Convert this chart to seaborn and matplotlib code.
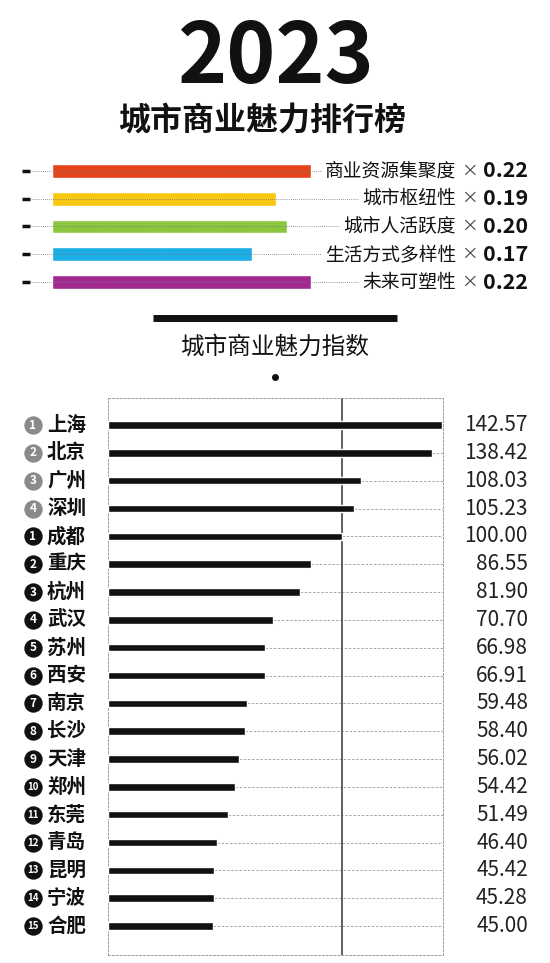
import numpy as np
import pandas as pd
import matplotlib
matplotlib.use("Agg")
import matplotlib.pyplot as plt
import matplotlib.transforms as mtransforms
import seaborn as sns

# data
factors = ["商业资源集聚度", "城市枢纽性", "城市人活跃度", "生活方式多样性", "未来可塑性"]
weights = [0.22, 0.19, 0.20, 0.17, 0.22]
factor_colors = ["#E2451B", "#F8C811", "#8CC63E", "#1DAEE5", "#A1288E"]

cities = ["上海", "北京", "广州", "深圳", "成都", "重庆", "杭州", "武汉", "苏州", "西安",
          "南京", "长沙", "天津", "郑州", "东莞", "青岛", "昆明", "宁波", "合肥"]
scores = [142.57, 138.42, 108.03, 105.23, 100.00, 86.55, 81.90, 70.70, 66.98, 66.91,
          59.48, 58.40, 56.02, 54.42, 51.49, 46.40, 45.42, 45.28, 45.00]
ranks = ["1", "2", "3", "4", "1", "2", "3", "4", "5", "6", "7", "8", "9", "10",
         "11", "12", "13", "14", "15"]
rank_colors = ["#8a8a8a"] * 4 + ["#111111"] * 15

sns.set_style("white")
plt.rcParams["font.family"] = ["Noto Sans CJK SC", "DejaVu Sans"]

W, H = 550, 963
fig = plt.figure(figsize=(W / 100, H / 100), dpi=100)
fig.patch.set_facecolor("white")

def fx(px):
    return px / W

def fy(py):
    return 1 - py / H

# header
fig.text(fx(275), fy(58), "2023", ha="center", va="center", fontsize=60,
         fontweight="heavy", color="#111111")
fig.text(fx(262), fy(122), "城市商业魅力排行榜", ha="center", va="center",
         fontsize=23, fontweight="heavy", color="#111111")

# weights
ax_w = fig.add_axes([fx(52), fy(296), fx(527) - fx(52), (296 - 157) / H])
df_w = pd.DataFrame({"factor": factors, "weight": weights})
sns.barplot(data=df_w, x="weight", y="factor", hue="factor", palette=factor_colors,
            legend=False, width=0.5, saturation=1, ax=ax_w, zorder=2)
ax_w.set_xlim(0, 475 / 1177)
ax_w.set_ylim(4.5, -0.5)
ax_w.axis("off")

tw = mtransforms.blended_transform_factory(fig.transFigure, ax_w.transData)
label_texts = []
for i, (f, w) in enumerate(zip(factors, weights)):
    t = ax_w.text(fx(456), i, f, transform=tw, ha="right", va="center",
                  fontsize=13.5, color="#111111")
    label_texts.append(t)
    ax_w.text(fx(469), i, "×", transform=tw, ha="center", va="center",
              fontsize=12, fontweight="light", color="#444444")
    ax_w.text(fx(528), i, f"{w:.2f}", transform=tw, ha="right", va="center",
              fontsize=15.5, fontweight="heavy", color="#111111")
    ax_w.plot([fx(22), fx(30)], [i, i], transform=tw, color="#111111", lw=2.5,
              solid_capstyle="butt", clip_on=False)

fig.canvas.draw()
for i, t in enumerate(label_texts):
    bb = t.get_window_extent()
    x_end = bb.x0 / fig.bbox.width - 4 / W
    ax_w.plot([fx(30), x_end], [i, i], transform=tw, color="#777777", lw=0.6,
              ls=(0, (1, 1.5)), zorder=3, clip_on=False)

# section title
fig.add_artist(plt.Line2D([fx(153), fx(397)], [fy(318), fy(318)], color="#111111",
                          lw=5, solid_capstyle="butt"))
fig.text(fx(275), fy(347), "城市商业魅力指数", ha="center", va="center",
         fontsize=17, fontweight="medium", color="#111111")
fig.add_artist(plt.Line2D([fx(275)], [fy(377)], marker="o", markersize=4,
                          color="#111111", lw=0))

# main chart
ax = fig.add_axes([fx(108), fy(955), fx(443) - fx(108), (955 - 398) / H])
df = pd.DataFrame({"city": cities, "score": scores})
sns.barplot(data=df, x="score", y="city", color="#111111", saturation=1,
            width=0.27, ax=ax, zorder=3)
xmax = 335 / 2.34
ax.set_xlim(0, xmax)
ax.set_ylim(19.04, -0.97)
ax.set_xlabel("")
ax.set_ylabel("")
ax.set_xticks([])
ax.set_yticks([])
for s in ax.spines.values():
    s.set_visible(True)
    s.set_color("#9a9a9a")
    s.set_linewidth(0.7)
    s.set_linestyle((0, (2, 2)))

ax.hlines(np.arange(len(cities)), scores, xmax, color="#9a9a9a", lw=0.6,
          ls=(0, (3, 2)), zorder=1)
ax.axvline(100, color="#444444", lw=1.2, zorder=2)

tm = mtransforms.blended_transform_factory(fig.transFigure, ax.transData)
for i, (c, r, rc, v) in enumerate(zip(cities, ranks, rank_colors, scores)):
    ax.scatter([fx(33)], [i], transform=tm, s=175, color=rc, clip_on=False, zorder=5,
               linewidths=0)
    ax.text(fx(33), i, r, transform=tm, ha="center", va="center",
            fontsize=7 if len(r) > 1 else 8.5, fontweight="bold",
            color="white", zorder=6, clip_on=False)
    ax.text(fx(47), i, c, transform=tm, ha="left", va="center", fontsize=14,
            fontweight="bold", color="#111111", clip_on=False)
    ax.text(fx(528), i, f"{v:.2f}", transform=tm, ha="right", va="center",
            fontsize=15, fontweight="light", color="#222222", clip_on=False)

fig.savefig("out.png", dpi=100, facecolor="white")
